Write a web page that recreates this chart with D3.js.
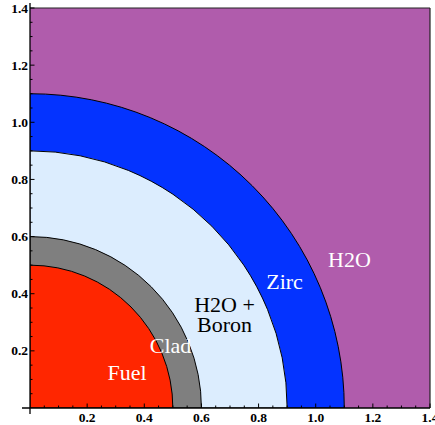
<!DOCTYPE html>
<html><head><meta charset="utf-8">
<script src="https://cdn.jsdelivr.net/npm/d3@7"></script>
<style>body{margin:0;background:#fff}svg{display:block}</style>
</head><body>
<script>
// Data
const regionNames = ["H2O", "Zirc", "H2O + Boron", "Clad", "Fuel"];
const outerRadii  = [1.4*Math.SQRT2, 1.1, 0.9, 0.6, 0.5];
const regionColors = ["#b05cac", "#0433ff", "#dcedfe", "#7f7f7f", "#ff2600"];
const labelLines = [["H2O"], ["Zirc"], ["H2O +", "Boron"], ["Clad"], ["Fuel"]];
const labelX = [1.118, 0.891, 0.681, 0.492, 0.34];
const labelY = [0.494, 0.417, 0.335, 0.193, 0.098];
const labelFill = ["#fff", "#fff", "#000", "#fff", "#fff"];
const tickValues = [0.2, 0.4, 0.6, 0.8, 1.0, 1.2, 1.4];
const minorTicks = d3.range(1, 29).map(i => i * 0.05);

const W = 435, H = 425;
const x = d3.scaleLinear().domain([0, 1.4]).range([30, 430]);
const y = d3.scaleLinear().domain([0, 1.4]).range([408, 8]);

const svg = d3.select("body").append("svg").attr("width", W).attr("height", H);
svg.append("clipPath").attr("id", "clip").append("rect")
  .attr("x", x(0)).attr("y", y(1.4)).attr("width", x(1.4) - x(0)).attr("height", y(0) - y(1.4));

const g = svg.append("g").attr("clip-path", "url(#clip)");
// background region (H2O)
g.append("rect").attr("x", x(0)).attr("y", y(1.4)).attr("width", x(1.4) - x(0)).attr("height", y(0) - y(1.4))
  .attr("fill", regionColors[0]);
const arc = d3.arc().innerRadius(0).startAngle(0).endAngle(Math.PI / 2);
outerRadii.forEach((r, i) => {
  if (i === 0) return;
  g.append("path")
    .attr("transform", `translate(${x(0)},${y(0)})`)
    .attr("d", arc({ outerRadius: x(r) - x(0) }))
    .attr("fill", regionColors[i]).attr("stroke", "#000").attr("stroke-width", 1);
});

// frame top/right
svg.append("line").attr("x1", x(0)).attr("x2", x(1.4)).attr("y1", y(1.4)).attr("y2", y(1.4)).attr("stroke", "#222").attr("stroke-width", 1.2);
svg.append("line").attr("x1", x(1.4)).attr("x2", x(1.4)).attr("y1", y(1.4)).attr("y2", y(0)).attr("stroke", "#222").attr("stroke-width", 1.2);

// axes
const axG = svg.append("g").attr("stroke", "#000");
axG.append("line").attr("x1", 22).attr("x2", x(1.4)).attr("y1", y(0)).attr("y2", y(0)).attr("stroke-width", 1.3);
axG.append("line").attr("x1", x(0)).attr("x2", x(0)).attr("y1", 3).attr("y2", 414).attr("stroke-width", 1.3);
minorTicks.forEach(v => {
  const major = Math.abs(v * 5 - Math.round(v * 5)) < 1e-6;
  const len = major ? 4.5 : 2.5;
  axG.append("line").attr("x1", x(v)).attr("x2", x(v)).attr("y1", y(0)).attr("y2", y(0) - len).attr("stroke-width", 1);
  axG.append("line").attr("x1", x(0)).attr("x2", x(0) + len).attr("y1", y(v)).attr("y2", y(v)).attr("stroke-width", 1);
});

const tf = d3.format(".1f");
svg.append("g").selectAll("text").data(tickValues).join("text")
  .attr("x", d => x(d)).attr("y", 421.5).attr("text-anchor", "middle")
  .attr("font-family", "Liberation Serif, Times New Roman, serif").attr("font-weight", "bold").attr("font-size", 13.5)
  .text(d => tf(d));
svg.append("g").selectAll("text").data(tickValues).join("text")
  .attr("x", 28).attr("y", d => y(d) + 4.5).attr("text-anchor", "end")
  .attr("font-family", "Liberation Serif, Times New Roman, serif").attr("font-weight", "bold").attr("font-size", 13.5)
  .text(d => tf(d));

// region labels
labelLines.forEach((lines, i) => {
  const t = svg.append("text").attr("text-anchor", "middle")
    .attr("font-family", "Liberation Serif, Times New Roman, serif").attr("font-size", 22)
    .attr("fill", labelFill[i]);
  lines.forEach((ln, k) => {
    t.append("tspan").attr("x", x(labelX[i])).attr("y", y(labelY[i]) + k * 20).text(ln);
  });
});
</script>
</body></html>
